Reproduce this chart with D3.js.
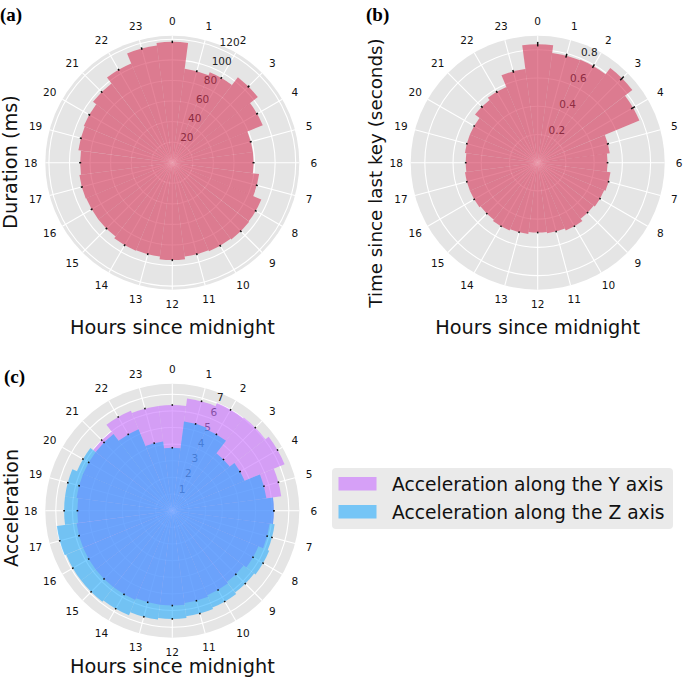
<!DOCTYPE html>
<html><head><meta charset="utf-8">
<script src="https://cdn.jsdelivr.net/npm/d3@7"></script>
<style>body{margin:0;background:#fff} svg{display:block}</style>
</head><body>
<svg id="chart" width="685" height="678"></svg>
<script>
// ---------- data ----------
const hours = d3.range(24);
const hourLabels = hours.map(String);

const durationMs = [117.5, 92.1, 95.2, 104.8, 95.2, 79, 79, 85.1, 93.7, 94.2, 93.2, 92.1, 94.7, 92.1, 92.7, 90.6, 90.6, 91.1, 89.6, 92.1, 93.2, 97.2, 104.3, 114.9];
const durationErr = [1.2, 1, 1, 1.2, 1, 1, 1, 1, 1, 1, 1, 1, 1, 1, 1, 1, 1, 1, 1, 1, 1, 1, 1, 1.2];

const timeSinceKey = [0.84, 0.785, 0.79, 0.845, 0.78, 0.515, 0.495, 0.52, 0.51, 0.50, 0.52, 0.505, 0.495, 0.51, 0.52, 0.51, 0.52, 0.52, 0.51, 0.52, 0.52, 0.56, 0.58, 0.67];
const timeErr = [0.016, 0.014, 0.014, 0.018, 0.016, 0.008, 0.006, 0.006, 0.006, 0.006, 0.006, 0.006, 0.006, 0.006, 0.006, 0.006, 0.006, 0.006, 0.006, 0.006, 0.006, 0.008, 0.008, 0.01];

const accelY = [6.35, 6.8, 7.0, 7.05, 7.3, 6.6, 6.1, 5.9, 5.6, 5.4, 5.5, 5.6, 5.7, 5.7, 5.8, 5.8, 5.8, 5.8, 5.7, 5.8, 5.8, 6.0, 6.5, 6.35];
const accelZ = [3.78, 5.4, 5.3, 4.35, 4.7, 5.7, 6.1, 6.2, 6.3, 6.2, 6.3, 6.4, 6.5, 6.6, 6.8, 6.9, 6.9, 7.0, 6.5, 6.5, 6.2, 5.8, 5.3, 4.2];
const accelErr = hours.map(() => 0.05);

const durationTicks = [20, 40, 60, 80, 100, 120];
const timeTicks = [0.2, 0.4, 0.6, 0.8];
const accelTicks = [1, 2, 3, 4, 5, 6, 7];
const legendLabels = ["Acceleration along the Y axis", "Acceleration along the Z axis"];

// ---------- drawing ----------
const svg = d3.select("#chart");
const FONT = "DejaVu Sans, sans-serif";
const ang = d3.scaleLinear().domain([0, 24]).range([0, 2 * Math.PI]);

function panel(opt) {
  const g = svg.append("g").attr("transform", `translate(${opt.cx},${opt.cy})`);
  const r = d3.scaleLinear().domain([0, opt.rmax]).range([0, opt.R]);

  g.append("circle").attr("r", opt.R).attr("fill", "#E5E5E5");
  g.append("g").selectAll("circle").data(opt.ticks).join("circle")
    .attr("r", d => r(d)).attr("fill", "none").attr("stroke", "#fff").attr("stroke-width", 1.1);
  g.append("g").selectAll("line").data(hours).join("line")
    .attr("x1", 0).attr("y1", 0)
    .attr("x2", h => opt.R * Math.sin(ang(h)))
    .attr("y2", h => -opt.R * Math.cos(ang(h)))
    .attr("stroke", "#fff").attr("stroke-width", 1.1);

  // radial tick labels: anchored left/bottom at the tick position on the 22.5° ray
  const la = 22.5 * Math.PI / 180;
  g.append("g").selectAll("text").data(opt.ticks).join("text")
    .attr("x", d => r(d) * Math.sin(la))
    .attr("y", d => -r(d) * Math.cos(la) - 2.5)
    .attr("text-anchor", "start")
    .attr("font-family", FONT).attr("font-size", 10.5).attr("fill", "#222")
    .text(opt.fmt);

  const arc = d3.arc().innerRadius(0);
  opt.series.forEach(s => {
    g.append("g").selectAll("path").data(hours).join("path")
      .attr("d", h => arc({ outerRadius: r(s.values[h]), startAngle: ang(h - 0.5), endAngle: ang(h + 0.5) }))
      .attr("fill", s.color).attr("fill-opacity", s.opacity);
  });
  opt.series.forEach(s => {
    g.append("g").selectAll("line").data(hours).join("line")
      .attr("x1", h => r(s.values[h] - s.errs[h]) * Math.sin(ang(h)))
      .attr("y1", h => -r(s.values[h] - s.errs[h]) * Math.cos(ang(h)))
      .attr("x2", h => r(s.values[h] + s.errs[h]) * Math.sin(ang(h)))
      .attr("y2", h => -r(s.values[h] + s.errs[h]) * Math.cos(ang(h)))
      .attr("stroke", "#111").attr("stroke-width", 1.5);
  });

  g.append("g").selectAll("text").data(hours).join("text")
    .attr("x", h => 141.5 * Math.sin(ang(h)))
    .attr("y", h => -141.5 * Math.cos(ang(h)))
    .attr("text-anchor", "middle").attr("dominant-baseline", "central")
    .attr("font-family", FONT).attr("font-size", 10.5).attr("fill", "#111")
    .text(h => hourLabels[h]);

  // axis titles
  svg.append("text").attr("x", opt.cx).attr("y", opt.xTitleY)
    .attr("text-anchor", "middle").attr("font-family", FONT).attr("font-size", 19.3).attr("fill", "#111")
    .text("Hours since midnight");
  svg.append("text").attr("transform", `translate(${opt.yTitleX},${opt.yTitleY}) rotate(-90)`)
    .attr("text-anchor", "middle").attr("font-family", FONT).attr("font-size", opt.yTitleSize).attr("fill", "#111")
    .text(opt.yTitle);
  svg.append("text").attr("x", opt.tagX).attr("y", opt.tagY)
    .attr("font-family", "Liberation Serif, Times New Roman, serif").attr("font-weight", "bold")
    .attr("font-size", 19).attr("fill", "#000").text(opt.tag);
}

const pink = { color: "rgb(214,51,86)", opacity: 0.6 };

panel({ cx: 172.3, cy: 162.7, R: 127, rmax: 123.5, ticks: durationTicks, fmt: d => d,
  series: [{ values: durationMs, errs: durationErr, ...pink }],
  xTitleY: 334, yTitle: "Duration (ms)", yTitleX: 17, yTitleY: 162, yTitleSize: 19.3,
  tag: "(a)", tagX: 0, tagY: 21 });

panel({ cx: 537.7, cy: 162.7, R: 127, rmax: 0.9, ticks: timeTicks, fmt: d => d.toFixed(1),
  series: [{ values: timeSinceKey, errs: timeErr, ...pink }],
  xTitleY: 334, yTitle: "Time since last key (seconds)", yTitleX: 382, yTitleY: 173, yTitleSize: 18.3,
  tag: "(b)", tagX: 366, tagY: 21 });

const purple = { color: "rgb(200,110,255)", opacity: 0.6 };
const sky = { color: "rgb(20,165,255)", opacity: 0.55 };

panel({ cx: 172.3, cy: 510.7, R: 127, rmax: 7.63, ticks: accelTicks, fmt: d => d,
  series: [{ values: accelY, errs: accelErr, ...purple }, { values: accelZ, errs: accelErr, ...sky }],
  xTitleY: 673, yTitle: "Acceleration", yTitleX: 18, yTitleY: 508, yTitleSize: 19,
  tag: "(c)", tagX: 4, tagY: 383 });

// legend
const lg = svg.append("g");
lg.append("rect").attr("x", 332).attr("y", 468).attr("width", 341).attr("height", 61)
  .attr("rx", 4).attr("fill", "#EAEAEA");
[purple, sky].forEach((s, i) => {
  lg.append("rect").attr("x", 338.5).attr("y", 477 + i * 28).attr("width", 38).attr("height", 13.5)
    .attr("fill", s.color).attr("fill-opacity", s.opacity);
  lg.append("text").attr("x", 392).attr("y", 490.5 + i * 28)
    .attr("font-family", FONT).attr("font-size", 18.7).attr("fill", "#111").text(legendLabels[i]);
});
</script>
</body></html>
